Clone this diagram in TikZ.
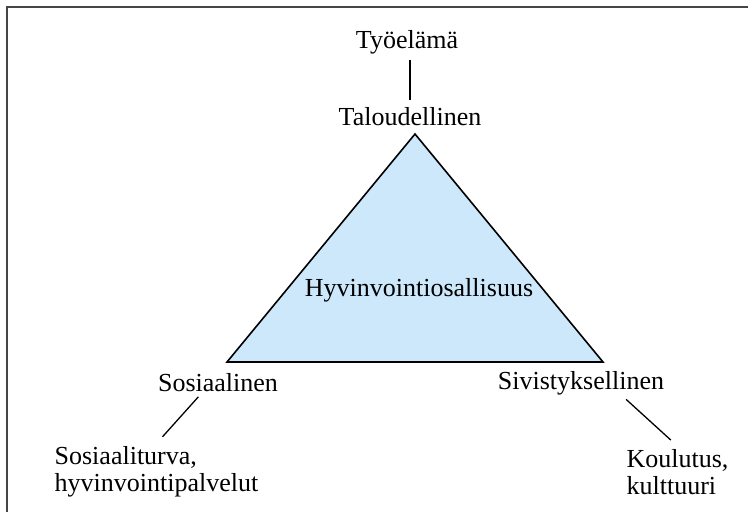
\documentclass[tikz,border=0pt]{standalone}
\usepackage{fontspec}
\setmainfont{Liberation Serif}
\usetikzlibrary{positioning}
\definecolor{trifill}{RGB}{204,232,250}
\definecolor{framegray}{RGB}{70,70,70}

\begin{document}
\begin{tikzpicture}[x=1pt, y=-1pt,
    lbl/.style={font=\fontsize{26}{27}\selectfont, inner sep=3pt},
    link/.style={line width=1.3pt}]
\useasboundingbox (0,0) rectangle (748,512);

% frame, only top and left edge are visible
\draw[framegray, line width=2pt] (7,512) -- (7,6.5) -- (748,6.5);

% the triangle
\coordinate (apex) at (415,134);
\coordinate (left) at (227,362);
\coordinate (right) at (603,362);
\draw[fill=trifill, line width=1.6pt] (apex) -- (left) -- (right) -- cycle;

% corner labels
\node[lbl] (tyo) at (407,42) {Työelämä};
\node[lbl] (talous) at (410,117) {Taloudellinen};
\node[lbl] (center) at (419,290) {Hyvinvointiosallisuus};
\node[lbl] (sos) at (218,383) {Sosiaalinen};
\node[lbl] (sivist) at (581,383) {Sivistyksellinen};

% outer labels
\node[lbl, align=left] (turva) at (156.5,472) {Sosiaaliturva,\\hyvinvointipalvelut};
\node[lbl, align=left] (koulu) at (677.5,472) {Koulutus,\\kulttuuri};

% connectors
\draw[link, shorten <=3pt, shorten >=5pt] (talous.north |- tyo.south) -- (talous.north);
\draw[link, shorten <=2pt, shorten >=9pt] (sos.214) -- (turva.north);
\draw[link, shorten <=2pt, shorten >=9pt] (sivist.-19) -- (koulu.north);
\end{tikzpicture}
\end{document}
